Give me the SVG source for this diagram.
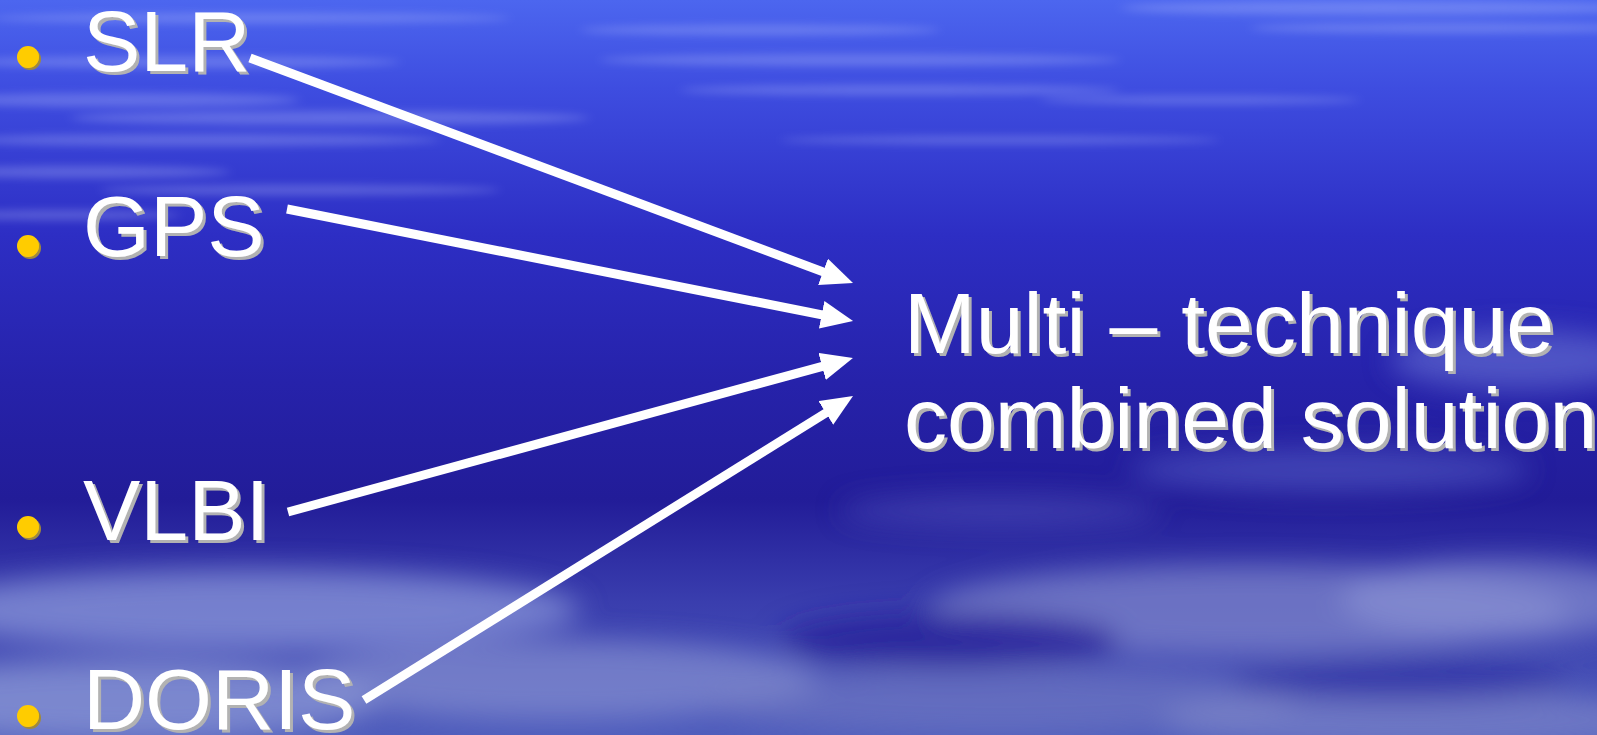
<svg xmlns="http://www.w3.org/2000/svg" width="1597" height="735" viewBox="0 0 1597 735">
  <style>
    .label { font-family: "Liberation Sans", Arial, sans-serif; font-size: 86px; fill: #ffffff; filter: url(#shadow); }
    .bullet { fill: #ffcc00; filter: url(#shadow-small); }
    .conn { stroke: #ffffff; stroke-width: 9; fill: none; marker-end: url(#head); }
  </style>
  <defs>
    <linearGradient id="sky" x1="0" y1="0" x2="0" y2="1">
      <stop offset="0" stop-color="#4c66ef"/>
      <stop offset="0.12" stop-color="#3e4de0"/>
      <stop offset="0.32" stop-color="#2d2ec4"/>
      <stop offset="0.52" stop-color="#2622aa"/>
      <stop offset="0.68" stop-color="#221c98"/>
      <stop offset="0.82" stop-color="#3a3eae"/>
      <stop offset="1" stop-color="#4e5cbc"/>
    </linearGradient>
    <filter id="soft" x="-20%" y="-50%" width="140%" height="200%">
      <feGaussianBlur stdDeviation="14"/>
    </filter>
    <filter id="streak" x="-20%" y="-200%" width="140%" height="500%">
      <feGaussianBlur stdDeviation="6 4"/>
    </filter>
    <filter id="shadow" x="-5%" y="-10%" width="115%" height="130%">
      <feOffset in="SourceAlpha" dx="3" dy="3" result="off"/>
      <feFlood flood-color="#b2b2b2"/>
      <feComposite in2="off" operator="in" result="sh"/>
      <feMerge>
        <feMergeNode in="sh"/>
        <feMergeNode in="SourceGraphic"/>
      </feMerge>
    </filter>
    <filter id="shadow-small" x="-30%" y="-30%" width="180%" height="180%">
      <feOffset in="SourceAlpha" dx="1.5" dy="1.5" result="off"/>
      <feFlood flood-color="#a08a3a"/>
      <feComposite in2="off" operator="in" result="sh"/>
      <feMerge>
        <feMergeNode in="sh"/>
        <feMergeNode in="SourceGraphic"/>
      </feMerge>
    </filter>
    <marker id="head" viewBox="0 0 32 28" markerWidth="32" markerHeight="28" refX="8" refY="14" orient="auto" markerUnits="userSpaceOnUse">
      <path d="M0,0 L32,14 L0,28 Z" fill="#ffffff"/>
    </marker>
  </defs>

  <!-- sky background -->
  <rect x="0" y="0" width="1597" height="735" fill="url(#sky)"/>

  <!-- thin wispy streaks near the top -->
  <g fill="#c4ccff" opacity="0.28" filter="url(#streak)">
    <ellipse cx="250" cy="18" rx="260" ry="5"/>
    <ellipse cx="180" cy="62" rx="220" ry="6"/>
    <ellipse cx="120" cy="100" rx="180" ry="7"/>
    <ellipse cx="330" cy="118" rx="260" ry="7"/>
    <ellipse cx="200" cy="140" rx="240" ry="6"/>
    <ellipse cx="80" cy="172" rx="150" ry="6"/>
    <ellipse cx="300" cy="190" rx="200" ry="5"/>
    <ellipse cx="60" cy="215" rx="120" ry="5"/>
    <ellipse cx="860" cy="60" rx="260" ry="6"/>
    <ellipse cx="900" cy="90" rx="220" ry="5"/>
    <ellipse cx="760" cy="30" rx="180" ry="5"/>
    <ellipse cx="1380" cy="8" rx="260" ry="7"/>
    <ellipse cx="1450" cy="28" rx="200" ry="5"/>
    <ellipse cx="1200" cy="100" rx="160" ry="4"/>
    <ellipse cx="1000" cy="140" rx="220" ry="4"/>
  </g>

  <!-- soft cloud banks lower down -->
  <g filter="url(#soft)">
    <ellipse cx="1520" cy="360" rx="130" ry="30" fill="#6a74d6" opacity="0.6"/>
    <ellipse cx="1330" cy="470" rx="200" ry="22" fill="#5a62c8" opacity="0.55"/>
    <ellipse cx="1000" cy="510" rx="160" ry="16" fill="#5a60c4" opacity="0.45"/>
    <ellipse cx="250" cy="610" rx="330" ry="40" fill="#8a96d8" opacity="0.75"/>
    <ellipse cx="120" cy="700" rx="260" ry="40" fill="#8c98d6" opacity="0.75"/>
    <ellipse cx="560" cy="680" rx="260" ry="40" fill="#8a94d2" opacity="0.65"/>
    <ellipse cx="1250" cy="610" rx="320" ry="45" fill="#8088cc" opacity="0.7"/>
    <ellipse cx="1500" cy="600" rx="160" ry="40" fill="#8a92d2" opacity="0.65"/>
    <ellipse cx="1000" cy="700" rx="300" ry="35" fill="#7680c4" opacity="0.55"/>
    <ellipse cx="1420" cy="720" rx="260" ry="30" fill="#8890cc" opacity="0.55"/>
    <ellipse cx="950" cy="640" rx="170" ry="28" fill="#241e98" opacity="0.8"/>
    <ellipse cx="1400" cy="680" rx="170" ry="22" fill="#2a2aa0" opacity="0.6"/>
  </g>

  <!-- techniques -->
  <g id="node-slr">
    <circle class="bullet" cx="28" cy="57" r="11"/>
    <text class="label" x="83" y="71">SLR</text>
  </g>
  <g id="node-gps">
    <circle class="bullet" cx="28" cy="246" r="11"/>
    <text class="label" x="83" y="256">GPS</text>
  </g>
  <g id="node-vlbi">
    <circle class="bullet" cx="28" cy="527" r="11"/>
    <text class="label" x="83" y="540">VLBI</text>
  </g>
  <g id="node-doris">
    <circle class="bullet" cx="28" cy="716" r="11"/>
    <text class="label" x="83" y="729">DORIS</text>
  </g>

  <!-- combined result -->
  <g id="node-combined">
    <text class="label" x="904" y="353">Multi – technique</text>
    <text class="label" x="904" y="448">combined solution</text>
  </g>

  <!-- connectors -->
  <g id="connectors">
    <line class="conn" x1="250" y1="58" x2="830.5" y2="274.6"/>
    <line class="conn" x1="287" y1="209" x2="829.5" y2="316.3"/>
    <line class="conn" x1="288" y1="512" x2="829.8" y2="364.3"/>
    <line class="conn" x1="364" y1="700" x2="832.6" y2="408.7"/>
  </g>
</svg>
